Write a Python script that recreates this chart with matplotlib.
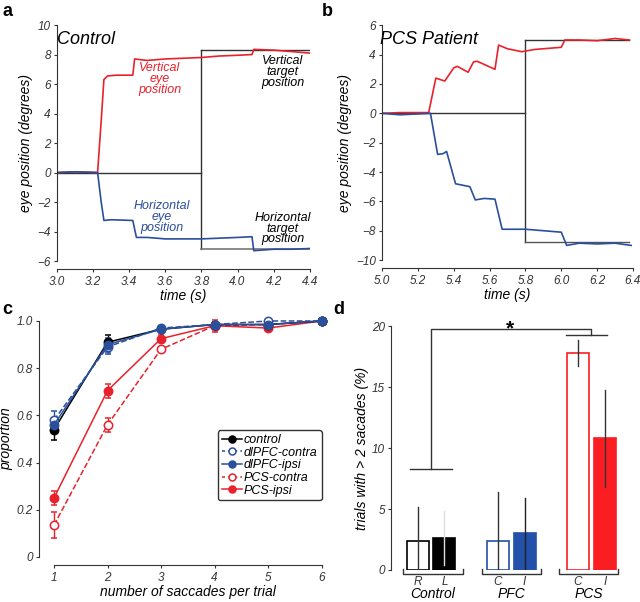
import matplotlib
matplotlib.use("Agg")
import matplotlib.pyplot as plt
from matplotlib.lines import Line2D

plt.rcParams['font.family'] = ['Liberation Sans', 'DejaVu Sans']
plt.rcParams['font.style'] = 'italic'

RED = '#e8222c'
BLUE = '#2a4f9c'
BARRED = '#fa1e22'
BARBLUE = '#2350a8'
TXT = '#333333'

# ---- panel a: control subject eye traces (time s, degrees)
a_vert_t = [3.0, 3.1, 3.225, 3.245, 3.26, 3.28, 3.33, 3.42, 3.43, 3.5, 3.6, 3.7, 3.8, 3.9, 4.0, 4.08, 4.09, 4.2, 4.3, 4.4]
a_vert_v = [0.0, 0.05, 0.0, 3.5, 6.3, 6.55, 6.6, 6.6, 7.7, 7.6, 7.7, 7.75, 7.8, 7.9, 7.95, 8.0, 8.35, 8.3, 8.2, 8.1]
a_horz_t = [3.0, 3.1, 3.225, 3.245, 3.26, 3.3, 3.42, 3.44, 3.5, 3.6, 3.7, 3.8, 3.9, 4.0, 4.08, 4.09, 4.2, 4.3, 4.4]
a_horz_v = [0.0, 0.05, 0.0, -2.0, -3.25, -3.2, -3.25, -4.4, -4.4, -4.5, -4.5, -4.5, -4.45, -4.4, -4.35, -5.3, -5.2, -5.2, -5.15]
a_tgt_t = [3.0, 3.8, 4.4]
a_tgt_vert = 8.3
a_tgt_horz = -5.2

# ---- panel b: PCS patient eye traces
b_vert_t = [5.0, 5.1, 5.26, 5.3, 5.35, 5.4, 5.42, 5.48, 5.51, 5.53, 5.63, 5.65, 5.7, 5.78, 5.85, 6.0, 6.02, 6.1, 6.2, 6.3, 6.38]
b_vert_v = [0.0, 0.05, 0.05, 2.4, 2.2, 3.1, 3.2, 2.8, 3.5, 3.55, 3.0, 4.65, 4.4, 4.2, 4.35, 4.5, 5.0, 5.0, 4.95, 5.1, 5.0]
b_horz_t = [5.0, 5.1, 5.27, 5.31, 5.34, 5.36, 5.41, 5.45, 5.49, 5.52, 5.57, 5.63, 5.67, 5.8, 5.9, 6.0, 6.03, 6.1, 6.2, 6.3, 6.39]
b_horz_v = [0.0, -0.1, 0.0, -2.8, -2.75, -2.6, -4.8, -4.9, -5.0, -5.9, -5.8, -5.85, -7.9, -7.9, -8.0, -8.1, -9.0, -8.85, -8.9, -8.85, -9.0]
b_tgt_t = [5.0, 5.8, 6.38]
b_tgt_vert = 5.0
b_tgt_horz = -8.8

# ---- panel c: proportion of trials by saccade count
n_sacc = [1, 2, 3, 4, 5, 6]
c_series = ['control', 'dlPFC-contra', 'dlPFC-ipsi', 'PCS-contra', 'PCS-ipsi']
c_control = [0.54, 0.91, 0.965, 0.985, 0.985, 1.0]
c_control_err = [0.045, 0.03, 0.01, 0.01, 0.01, 0.0]
c_pfc_contra = [0.58, 0.89, 0.97, 0.985, 1.0, 1.0]
c_pfc_contra_err = [0.04, 0.03, 0.01, 0.01, 0.005, 0.0]
c_pfc_ipsi = [0.56, 0.90, 0.965, 0.985, 0.985, 1.0]
c_pfc_ipsi_err = [0.03, 0.03, 0.01, 0.01, 0.01, 0.0]
c_pcs_contra = [0.135, 0.56, 0.88, 0.98, 0.985, 1.0]
c_pcs_contra_err = [0.055, 0.03, 0.01, 0.025, 0.01, 0.0]
c_pcs_ipsi = [0.25, 0.705, 0.925, 0.98, 0.97, 1.0]
c_pcs_ipsi_err = [0.03, 0.03, 0.015, 0.01, 0.01, 0.0]

# ---- panel d: trials with > 2 saccades (%)
d_pos = [1, 2, 4, 5, 7, 8]
d_ticklabels = ['R', 'L', 'C', 'I', 'C', 'I']
d_vals = [2.4, 2.6, 2.4, 3.0, 17.8, 10.8]
d_err = [2.8, 2.2, 4.0, 2.9, 1.05, 4.0]
d_groups = ['Control', 'PFC', 'PCS']
d_group_span = [(0.45, 2.7), (3.4, 5.6), (6.3, 8.5)]

fig = plt.figure(figsize=(6.4, 6.02), dpi=100)


def style(ax):
    ax.spines['top'].set_visible(False)
    ax.spines['right'].set_visible(False)
    ax.tick_params(labelsize=8.5, colors=TXT, length=2.5, width=0.8, pad=2)
    for s in ax.spines.values():
        s.set_color(TXT)
        s.set_linewidth(0.8)


# panel a
ax = fig.add_axes([0.089, 0.5664, 0.395, 0.392])
ax.plot([a_tgt_t[0], a_tgt_t[1]], [0, 0], color='#333333', lw=1)
ax.plot([a_tgt_t[1], a_tgt_t[1]], [a_tgt_horz, a_tgt_vert], color='#333333', lw=1)
ax.plot([a_tgt_t[1], a_tgt_t[2]], [a_tgt_vert, a_tgt_vert], color='#333333', lw=1)
ax.plot([a_tgt_t[1], a_tgt_t[2]], [a_tgt_horz, a_tgt_horz], color='#777777', lw=1.2)
ax.plot(a_vert_t, a_vert_v, color=RED, lw=1.2)
ax.plot(a_horz_t, a_horz_v, color=BLUE, lw=1.2)
ax.set_xlim(3.0, 4.4)
ax.set_ylim(-6, 10)
ax.set_xticks([3.0, 3.2, 3.4, 3.6, 3.8, 4.0, 4.2, 4.4])
ax.set_xticklabels(['3.0', '3.2', '3.4', '3.6', '3.8', '4.0', '4.2', '4.4'])
ax.set_yticks(range(-6, 11, 2))
ax.set_yticklabels(['\u22126', '\u22124', '\u22122', '0', '2', '4', '6', '8', '10'])
style(ax)
ax.spines['bottom'].set_position(('outward', 6))
ax.set_xlabel('time (s)', fontsize=10, labelpad=1)
ax.set_ylabel('eye position (degrees)', fontsize=10, labelpad=3)
ax.text(3.0, 9.0, 'Control', fontsize=13, va='center')
tkw = dict(fontsize=9, ha='center', va='center', linespacing=0.88)
ax.text(3.57, 6.35, 'Vertical\neye\nposition', color=RED, **tkw)
ax.text(4.25, 6.8, 'Vertical\ntarget\nposition', color='black', **tkw)
ax.text(3.58, -3.0, 'Horizontal\neye\nposition', color=BLUE, **tkw)
ax.text(4.25, -3.8, 'Horizontal\ntarget\nposition', color='black', **tkw)

# panel b
ax = fig.add_axes([0.597, 0.568, 0.392, 0.390])
ax.plot([b_tgt_t[0], b_tgt_t[1]], [0, 0], color='#333333', lw=1)
ax.plot([b_tgt_t[1], b_tgt_t[1]], [b_tgt_horz, b_tgt_vert], color='#333333', lw=1)
ax.plot([b_tgt_t[1], b_tgt_t[2]], [b_tgt_vert, b_tgt_vert], color='#333333', lw=1)
ax.plot([b_tgt_t[1], b_tgt_t[2]], [b_tgt_horz, b_tgt_horz], color='#555555', lw=1)
ax.plot(b_vert_t, b_vert_v, color=RED, lw=1.2)
ax.plot(b_horz_t, b_horz_v, color=BLUE, lw=1.2)
ax.set_xlim(5.0, 6.4)
ax.set_ylim(-10, 6)
ax.set_xticks([5.0, 5.2, 5.4, 5.6, 5.8, 6.0, 6.2, 6.4])
ax.set_xticklabels(['5.0', '5.2', '5.4', '5.6', '5.8', '6.0', '6.2', '6.4'])
ax.set_yticks(range(-10, 7, 2))
ax.set_yticklabels(['\u221210', '\u22128', '\u22126', '\u22124', '\u22122', '0', '2', '4', '6'])
style(ax)
ax.spines['bottom'].set_position(('outward', 6))
ax.set_xlabel('time (s)', fontsize=10, labelpad=1)
ax.set_ylabel('eye position (degrees)', fontsize=10, labelpad=3)
ax.text(4.99, 5.0, 'PCS Patient', fontsize=13, va='center')

# panel c
ax = fig.add_axes([0.0844, 0.0748, 0.418, 0.392])
c_data = [c_control, c_pfc_contra, c_pfc_ipsi, c_pcs_contra, c_pcs_ipsi]
c_errs = [c_control_err, c_pfc_contra_err, c_pfc_ipsi_err, c_pcs_contra_err, c_pcs_ipsi_err]
c_cols = ['black', BLUE, BLUE, RED, RED]
c_open = [False, True, False, True, False]
c_order = [3, 4, 0, 1, 2]
handles = []
for i in c_order:
    ls = '--' if c_open[i] else '-'
    ax.errorbar(n_sacc, c_data[i], yerr=c_errs[i], color=c_cols[i], ls=ls, lw=1.1,
                marker='o', ms=6, mfc='white' if c_open[i] else c_cols[i],
                mec=c_cols[i], mew=1.1, capsize=2.5, elinewidth=1, clip_on=False, zorder=3)
for i in range(5):
    handles.append(Line2D([], [], color=c_cols[i], ls=(0, (2, 2)) if c_open[i] else '-', lw=1.1,
                          marker='o', ms=5, mfc='white' if c_open[i] else c_cols[i],
                          mec=c_cols[i], mew=1.1))
ax.set_xlim(1, 6)
ax.set_ylim(0, 1.0)
ax.set_xticks(n_sacc)
ax.set_yticks([0, 0.2, 0.4, 0.6, 0.8, 1.0])
ax.set_yticklabels(['0', '0.2', '0.4', '0.6', '0.8', '1.0'])
style(ax)
ax.spines['bottom'].set_position(('outward', 6))
ax.spines['left'].set_position(('outward', 11))
ax.set_xlabel('number of saccades per trial', fontsize=10, labelpad=1)
ax.set_ylabel('proportion', fontsize=10, labelpad=2)
leg = ax.legend(handles, c_series, loc='upper right', bbox_to_anchor=(1.0, 0.536),
                fontsize=9, frameon=True, fancybox=True, edgecolor='black',
                handlelength=1.6, handletextpad=0.2, labelspacing=0.05, borderpad=0.3,
                borderaxespad=0)
leg.get_frame().set_linewidth(1.0)

# panel d
ax = fig.add_axes([0.611, 0.0532, 0.363, 0.405])
fills = ['white', 'black', 'white', BARBLUE, 'white', BARRED]
edges = ['black', 'black', BARBLUE, BARBLUE, BARRED, BARRED]
err_cols = ['#333333', '#dddddd', '#333333', '#222222', '#333333', '#333333']
ax.bar(d_pos, d_vals, width=0.82, color=fills, edgecolor=edges, linewidth=1.2, zorder=2)
for p, v, e, c in zip(d_pos, d_vals, d_err, err_cols):
    ax.plot([p, p], [max(v - e, 0), v + e], color=c, lw=1, zorder=3)
ax.set_xlim(0, 8.7)
ax.set_ylim(0, 20)
ax.set_yticks([0, 5, 10, 15, 20])
ax.set_xticks([])
style(ax)
ax.spines['bottom'].set_visible(False)
ax.spines['left'].set_bounds(0, 20)
ax.set_ylabel('trials with > 2 sacades (%)', fontsize=10, labelpad=2)
# significance bracket
kw = dict(color='#333333', lw=1, clip_on=False)
ax.plot([0.71, 2.28], [8.3, 8.3], **kw)
ax.plot([1.5, 1.5, 7.5, 7.5], [8.3, 19.8, 19.8, 19.3], **kw)
ax.plot([6.55, 8.1], [19.3, 19.3], **kw)
ax.text(4.46, 19.75, '*', fontsize=15, ha='center', va='center', fontweight='bold', style='normal')
# group brackets and labels
for (x0, x1), name in zip(d_group_span, d_groups):
    ax.plot([x0, x0, x1, x1], [0.1, -0.3, -0.3, 0.1], color='#333333', lw=1, clip_on=False)
    ax.text((x0 + x1) / 2, -2.0, name, fontsize=10, ha='center', va='center', color='black')
for p, lab in zip(d_pos, d_ticklabels):
    ax.text(p, -0.95, lab, fontsize=8.5, ha='center', va='center', color=TXT)

# panel letters
for lab, x, y in [('a', 0.004, 0.995), ('b', 0.503, 0.995), ('c', 0.004, 0.5), ('d', 0.52, 0.5)]:
    fig.text(x, y, lab, fontsize=13, fontweight='bold', style='normal', va='top', ha='left')

fig.savefig('out.png', dpi=100)
